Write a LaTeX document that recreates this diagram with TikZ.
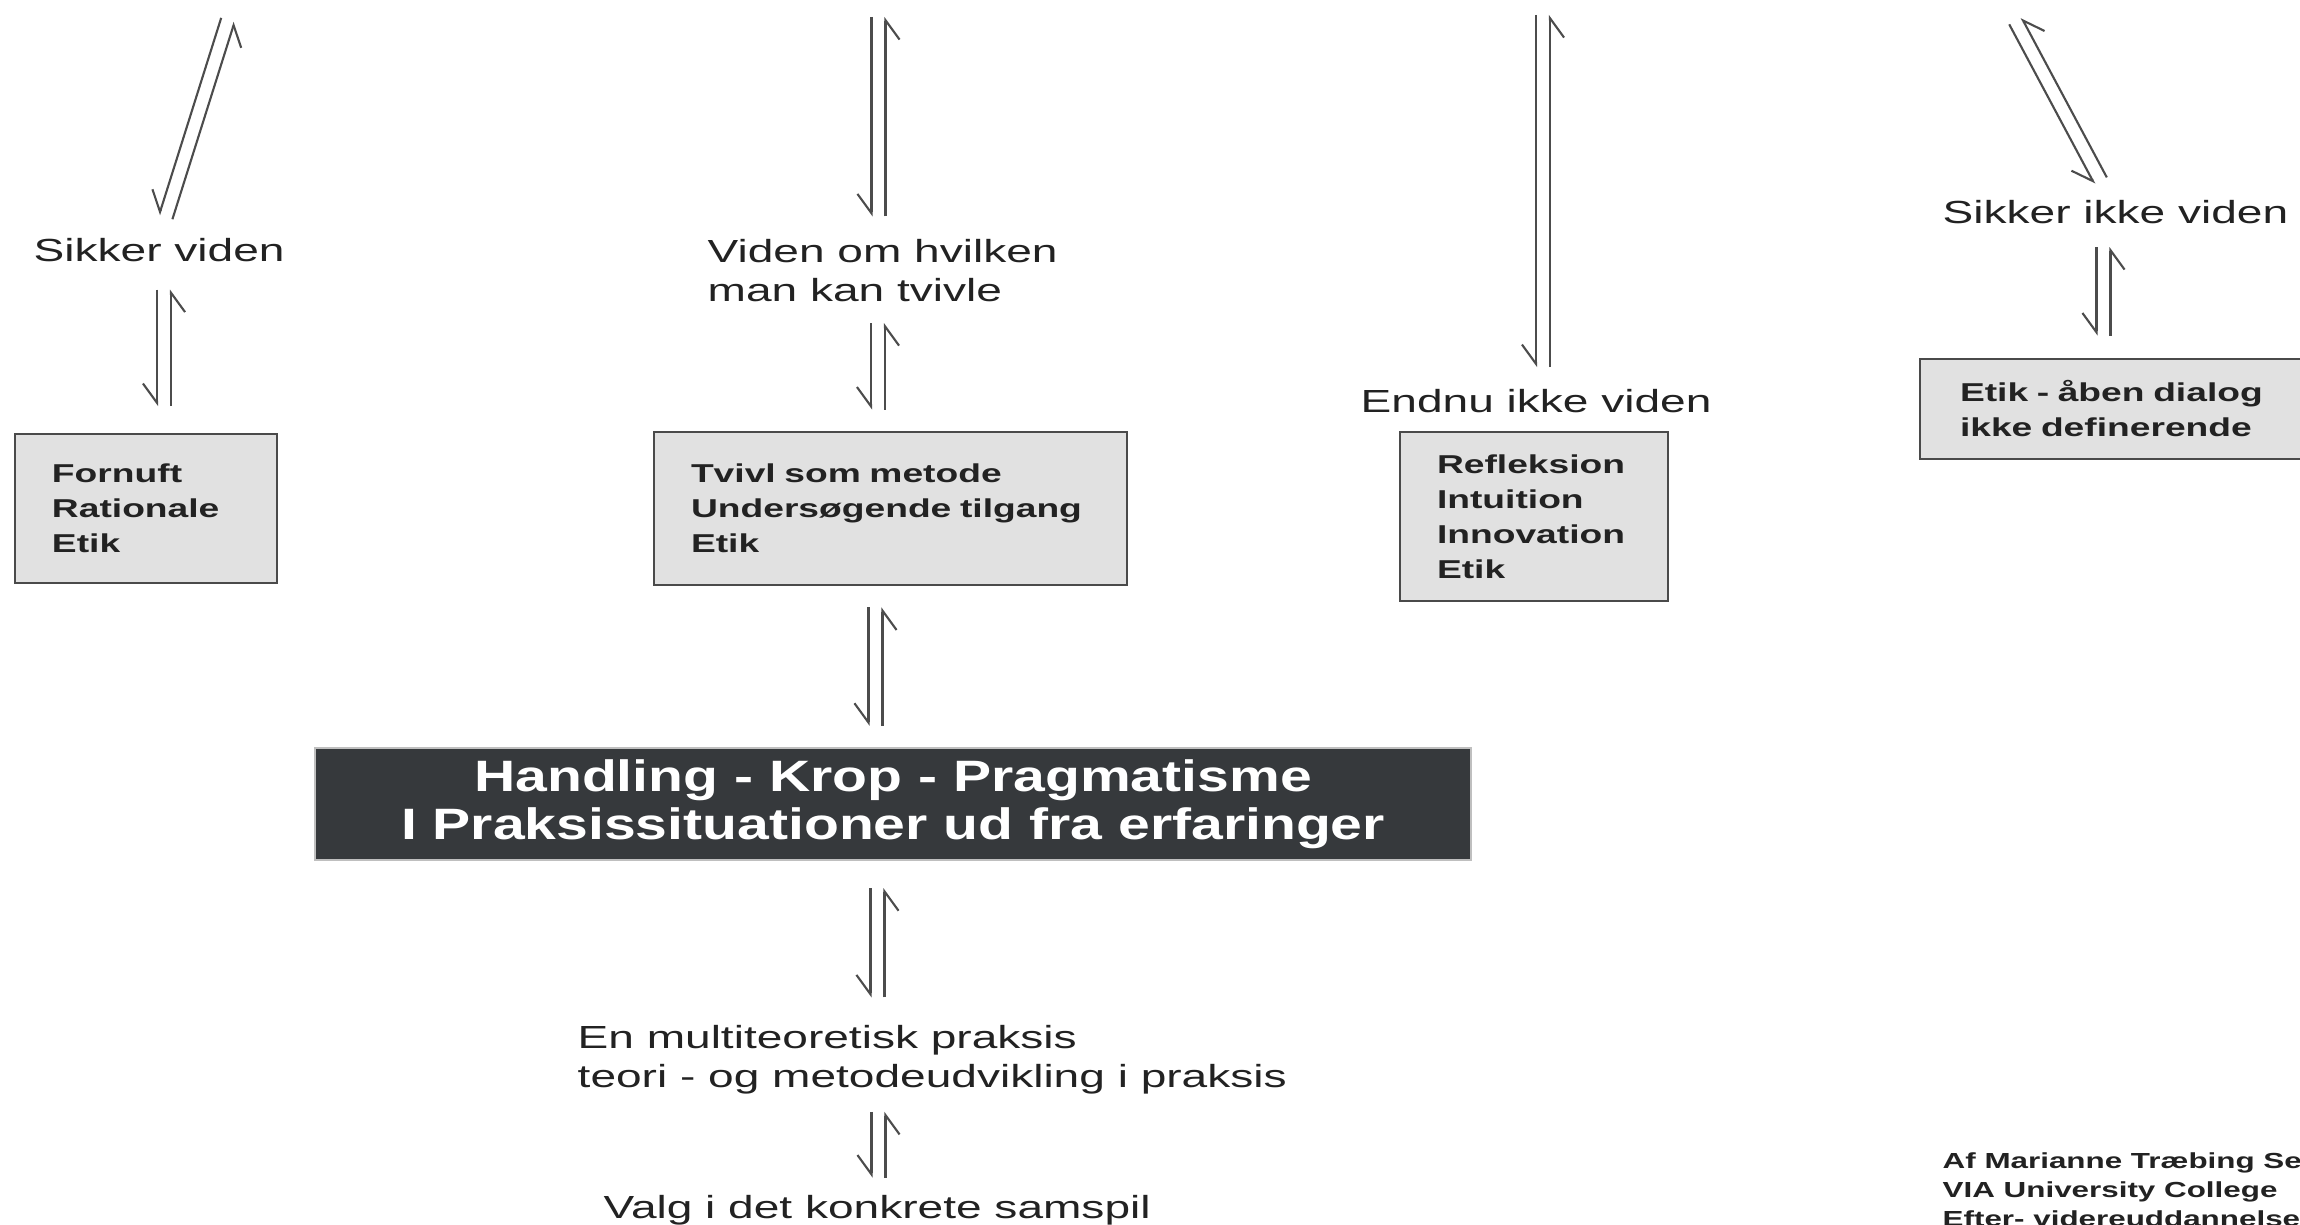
\documentclass[tikz,border=0pt]{standalone}
\usepackage{fontspec}
\newfontfamily\lblfont[FakeStretch=1.44]{Liberation Sans}
\newfontfamily\headfont[FakeStretch=1.3]{Liberation Sans}
\usetikzlibrary{arrows.meta,calc}

\definecolor{inktext}{HTML}{222222}
\definecolor{boxgrey}{HTML}{E1E1E1}
\definecolor{boxline}{HTML}{4A4A4A}
\definecolor{darkfill}{HTML}{36393C}

\tikzset{
  lbl/.style={inner sep=0pt, text=inktext, align=left,
    font=\lblfont\fontsize{9.1pt}{11pt}\selectfont},
  greybox/.style={draw=boxline, fill=boxgrey, line width=0.8pt, inner xsep=0.37cm,
    align=left, text=inktext, font=\lblfont\bfseries\fontsize{7.35pt}{9.96pt}\selectfont},
  darkbox/.style={draw=black!25, fill=darkfill, line width=0.5pt, text=white, align=center,
    font=\headfont\bfseries\fontsize{12.5pt}{13.66pt}\selectfont},
  sig/.style={inner sep=0pt, text=inktext, align=left,
    font=\lblfont\bfseries\fontsize{6.2pt}{8.2pt}\selectfont},
  harp/.style={line width=0.6pt, draw=black!70, -{Straight Barb[right, length=5.5pt, width=8pt]}}
}

\newcommand{\harpoons}[3][0.22cm]{%
  \path #2 coordinate (hA) #3 coordinate (hB);
  \path ($(hA)!#1!(hB)$) coordinate (hP) ($(hB)!#1!(hA)$) coordinate (hQ);
  \draw[harp] ($(hP)!0.07cm!-90:(hQ)$) -- ($(hQ)!0.07cm!90:(hP)$);
  \draw[harp] ($(hQ)!0.07cm!-90:(hP)$) -- ($(hP)!0.07cm!90:(hQ)$);
}

\begin{document}
\begin{tikzpicture}
\useasboundingbox (0,0) rectangle (23,-12.25);

\node[lbl, anchor=base west] (sikker) at (0.33,-2.62) {Sikker viden};
\node[lbl, anchor=north west] (viden) at (7.07,-2.385) {Viden om hvilken\\man kan tvivle};
\node[lbl, anchor=base west] (endnu) at (13.60,-4.13) {Endnu ikke viden};
\node[lbl, anchor=base west] (sikkerikke) at (19.42,-2.24) {Sikker ikke viden};

\node[greybox, minimum width=2.62cm, minimum height=1.49cm, text width=1.88cm] (fornuft) at (1.46,-5.085) {Fornuft\\Rationale\\Etik};
\node[greybox, minimum width=4.73cm, minimum height=1.53cm, text width=3.99cm] (tvivl) at (8.905,-5.085) {Tvivl som metode\\Undersøgende tilgang\\Etik};
\node[greybox, minimum width=2.68cm, minimum height=1.69cm, text width=1.94cm] (refleks) at (15.34,-5.165) {Refleksion\\Intuition\\Innovation\\Etik};
\node[greybox, minimum width=4.20cm, minimum height=1.00cm, text width=3.40cm, inner xsep=0.40cm] (etik) at (21.30,-4.09) {Etik - åben dialog\\ikke definerende};

\node[darkbox, minimum width=11.56cm, minimum height=1.12cm] (handling) at (8.93,-8.04) {Handling - Krop - Pragmatisme\\I Praksissituationer ud fra erfaringer};

\node[lbl, anchor=north west] (multi) at (5.77,-10.245) {En multiteoretisk praksis\\teori - og metodeudvikling i praksis};
\node[lbl, anchor=base west] (valg) at (6.03,-12.19) {Valg i det konkrete samspil};

\node[sig, anchor=north west] (forfatter) at (19.42,-11.52) {Af Marianne Træbing Se\\VIA University College\\Efter- videreuddannelse};

\harpoons{(2.345,0.01)}{(sikker.north)}
\harpoons[0.265cm]{(1.64,0 |- sikker.south)}{(1.64,0 |- fornuft.north)}
\harpoons{(8.785,0.05)}{(8.785,0 |- viden.north)}
\harpoons[0.21cm]{(8.78,0 |- viden.south)}{(8.78,0 |- tvivl.north)}
\harpoons[0.21cm]{(8.755,0 |- tvivl.south)}{(8.755,0 |- handling.north)}
\harpoons[0.27cm]{(8.775,0 |- handling.south)}{(8.775,0 |- multi.north)}
\harpoons[0.175cm]{(8.785,0 |- multi.south)}{(8.785,0 |- valg.north)}
\harpoons{(15.43,0.07)}{(15.43,0 |- endnu.north)}
\harpoons{(20.05,-0.016)}{(21.11,0 |- sikkerikke.north)}
\harpoons{(21.035,0 |- sikkerikke.south)}{(21.035,0 |- etik.north)}
\end{tikzpicture}
\end{document}
